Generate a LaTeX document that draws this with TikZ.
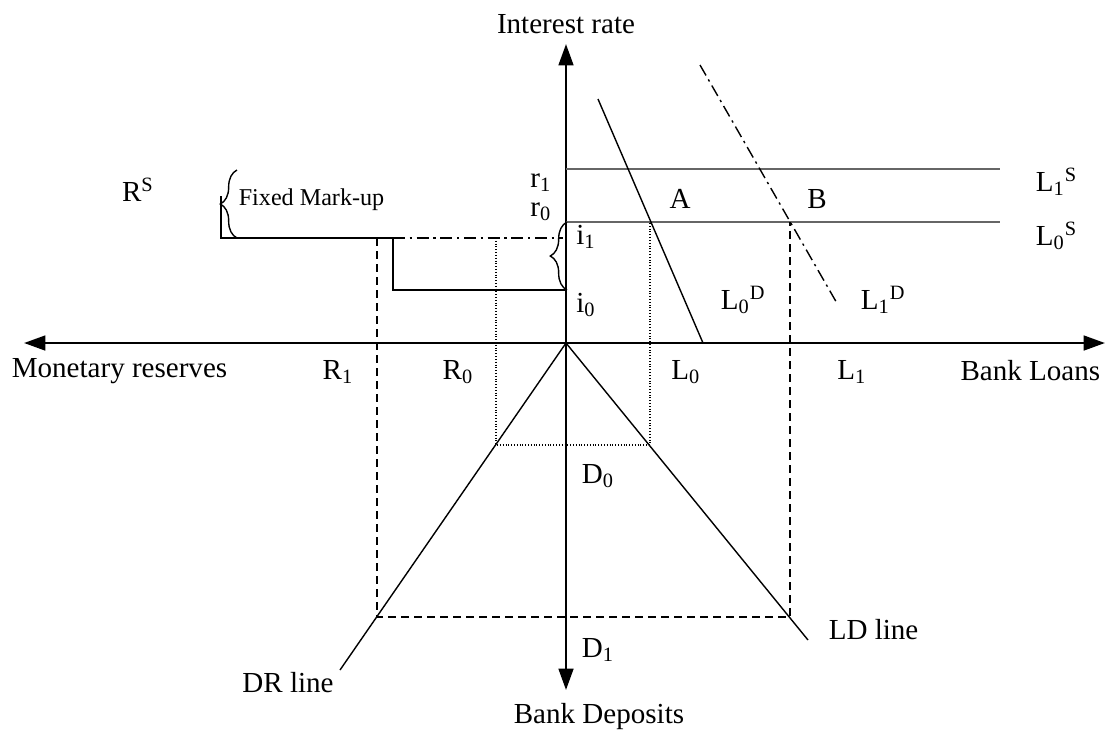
\documentclass[tikz,border=0pt]{standalone}
\usepackage{fontspec}
\setmainfont{Liberation Serif}
\usetikzlibrary{arrows.meta,decorations.pathreplacing}
\tikzset{
  axis/.style={line width=1.1pt, {Triangle[length=3.2mm,width=2.2mm]}-{Triangle[length=3.2mm,width=2.2mm]}},
  curve/.style={line width=.6pt},
  supply/.style={line width=.9pt, draw=black!60},
  guide/.style={line width=.6pt, dash pattern=on 1.2mm off .75mm},
  fine/.style={line width=.5pt, dash pattern=on .4pt off .8pt},
  dashdot/.style={line width=.6pt, dash pattern=on 1.8mm off .7mm on .35mm off .7mm},
  lbl/.style={font=\fontsize{12.4}{14}\selectfont, inner sep=1pt},
  markup/.style={decorate, decoration={brace, amplitude=2.5mm}, line width=.6pt}
}

\begin{document}
\begin{tikzpicture}[x=0.15mm,y=-0.15mm]
  \useasboundingbox (0,0) rectangle (1106,729);

  % Axes through the origin.
  \coordinate (O) at (566,343);
  \coordinate (ytop) at (566,44);
  \coordinate (ybot) at (566,690);
  \coordinate (xleft) at (24,343);
  \coordinate (xright) at (1105,343);
  \draw[axis] (ybot) -- (ytop);
  \draw[axis] (xleft) -- (xright);
  \node[lbl] (irate) at (566,24) {Interest rate};
  \node[lbl] (deposits) at (599,716) {Bank Deposits};
  \node[lbl, anchor=west] (reserves) at (9,371) {Monetary reserves};
  \node[lbl, anchor=east] (loans) at (1103,371) {Bank Loans};

  % Loan supply at the two rates.
  \coordinate (r1s) at (566,169);
  \coordinate (r1e) at (1000,169);
  \coordinate (r0s) at (566,222);
  \coordinate (r0e) at (1000,222);
  \draw[supply] (r1s) -- (r1e);
  \draw[supply] (r0s) -- (r0e);
  \node[lbl, anchor=west] (l1s) at (1033,182) {L\textsubscript{1}\textsuperscript{S}};
  \node[lbl, anchor=west] (l0s) at (1033,236) {L\textsubscript{0}\textsuperscript{S}};
  \node[lbl] (r1lbl) at (541,183) {r\textsubscript{1}};
  \node[lbl] (r0lbl) at (541,212) {r\textsubscript{0}};

  % Loan demand curves.
  \coordinate (ld0a) at (598,99);
  \coordinate (ld0b) at (703,343);
  \coordinate (ld1a) at (700,65);
  \coordinate (ld1b) at (838,305);
  \draw[curve] (ld0a) -- (ld0b);
  \draw[dashdot] (ld1a) -- (ld1b);
  \node[lbl, anchor=west] (l0d) at (718,300) {L\textsubscript{0}\textsuperscript{D}};
  \node[lbl, anchor=west] (l1d) at (858,300) {L\textsubscript{1}\textsuperscript{D}};
  \coordinate (A) at (650,222);
  \coordinate (B) at (790,222);
  \node[lbl] (alabel) at (680,199) {A};
  \node[lbl] (blabel) at (817,199) {B};

  % Reserve supply and the policy rates.
  \coordinate (rsa) at (221,196);
  \coordinate (rsb) at (221,238);
  \coordinate (rsc) at (393,238);
  \coordinate (rsd) at (563,238);
  \coordinate (i0a) at (393,290);
  \coordinate (i0b) at (566,290);
  \draw[curve] (rsa) -- (rsb) -- (rsc);
  \draw[dashdot] (rsc) -- (rsd);
  \draw[curve] (rsc) -- (i0a) -- (i0b);
  \draw[markup] (237,238) -- (237,170);
  \draw[markup] (567,290) -- (567,222);
  \node[lbl] (rslbl) at (138,190) {R\textsuperscript{S}};
  \node[lbl, anchor=west, font=\fontsize{10.3}{12}\selectfont] (fixed) at (236,200) {Fixed Mark-up};
  \node[lbl] (i1lbl) at (586,237) {i\textsubscript{1}};
  \node[lbl] (i0lbl) at (586,305) {i\textsubscript{0}};

  % Deposit lines in the lower half.
  \coordinate (drend) at (340,670);
  \coordinate (ldend) at (808,640);
  \draw[curve] (O) -- (drend);
  \draw[curve] (O) -- (ldend);
  \node[lbl] (drlbl) at (288,683) {DR line};
  \node[lbl, anchor=west] (ldlbl) at (826,630) {LD line};

  % Initial equilibrium (dotted) and new one (dashed).
  \coordinate (d0l) at (496,445);
  \coordinate (d0r) at (650,445);
  \coordinate (r0top) at (496,238);
  \draw[fine] (r0top) -- (d0l) -- (d0r) -- (A);
  \coordinate (d1l) at (377,617);
  \coordinate (d1r) at (790,617);
  \coordinate (r1top) at (377,238);
  \draw[guide] (r1top) -- (d1l) -- (d1r) -- (B);
  \node[lbl] (rone) at (338,372) {R\textsubscript{1}};
  \node[lbl] (rzero) at (458,372) {R\textsubscript{0}};
  \node[lbl] (lzero) at (686,372) {L\textsubscript{0}};
  \node[lbl] (lone) at (852,372) {L\textsubscript{1}};
  \node[lbl] (dzero) at (598,476) {D\textsubscript{0}};
  \node[lbl] (done) at (598,650) {D\textsubscript{1}};
\end{tikzpicture}
\end{document}
